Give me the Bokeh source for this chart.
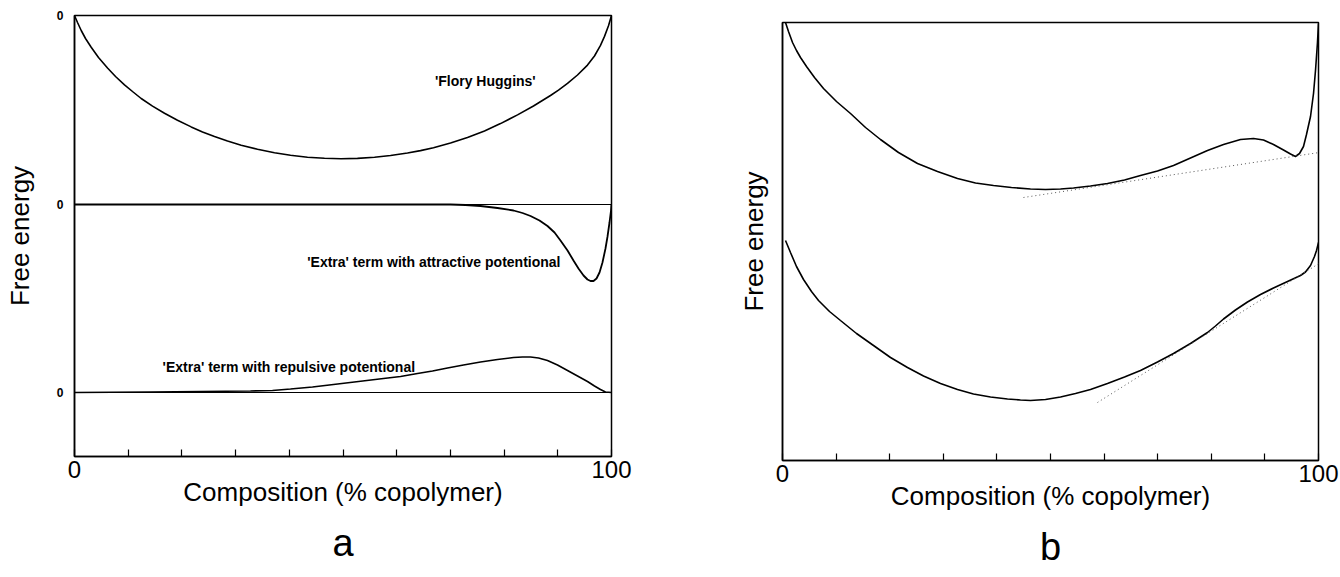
from bokeh.plotting import figure
from bokeh.models import FixedTicker, Span, Title, Spacer, CustomJSTickFormatter
from bokeh.models import Label
from bokeh.layouts import row, column
from bokeh.embed import file_html
from bokeh.resources import INLINE

FONT = "Liberation Sans"

# ---------------- panel a data (arbitrary free-energy units) ----------------
# zero levels of the three stacked curves (repulsive, attractive, Flory-Huggins)
ZERO_LEVELS_A = [0, 188, 377]

fh_x = [0, 0.56, 1.25, 2.05, 3.11, 4.47, 6.15, 7.64, 9.31, 10.80, 12.42, 14.53, 16.76,
        19.18, 21.73, 23.84, 26.07, 28.49, 31.04, 34.08, 37.24, 40.22, 43.39, 46.55,
        49.66, 52.70, 55.87, 58.85, 62.01, 64.43, 66.85, 70.02, 73.18, 76.35, 79.33,
        82.50, 85.47, 88.64, 90.13, 91.81, 93.67, 95.53, 96.83, 97.95, 98.70, 99.44, 100]
fh_y = [0, -7, -15, -23, -31.7, -42, -52.5, -61, -69.3, -76, -83, -90.6, -97.8,
        -104.8, -111.4, -116.4, -121.1, -125.6, -129.7, -133.8, -137.3, -139.8, -141.7,
        -142.8, -143.2, -142.9, -141.8, -140, -137.5, -135.1, -132.2, -127.6, -122.1,
        -115.4, -108.1, -99.4, -90.5, -80, -74.6, -67.9, -59.5, -49.6, -40.5, -29.9,
        -20.9, -10.2, 0]

att_x = [0, 23.46, 51.40, 64.43, 70.02, 72.81, 75.61, 78.77, 81.75, 83.43, 84.92, 86.59,
         88.08, 89.39, 90.50, 91.81, 92.92, 93.85, 94.79, 95.53, 96.09, 96.65, 97.21,
         97.77, 98.32, 98.88, 99.26, 99.63, 99.91, 100]
att_y = [0, 0, 0, 0, 0, -0.5, -1.5, -3.5, -6, -8.5, -11.5, -16, -21.5, -28, -36, -46,
         -56, -64, -71, -75, -76.5, -76.5, -74, -68, -58, -44, -32, -18, -6, 0]

rep_x = [0, 14.15, 23.46, 32.77, 36.87, 40.22, 44.32, 48.23, 52.89, 57.54, 60.71, 63.87,
         66.67, 69.46, 72.44, 75.61, 78.77, 81.75, 83.43, 84.92, 86.41, 88.08, 89.94,
         91.81, 93.67, 95.53, 96.83, 97.95, 98.88, 100]
rep_y = [0, 0.5, 1, 1.5, 2, 3.5, 5.5, 8, 11, 14, 16, 19, 21.5, 24.5, 27.5, 30.5, 33, 35,
         35.5, 35.5, 34.5, 32, 27.5, 22, 16.5, 11, 6.5, 3, 0.5, 0]

# ---------------- panel b data ----------------
up_x = [0.56, 1.12, 1.87, 2.61, 3.36, 4.48, 5.97, 7.65, 10.07, 12.69, 15.49, 18.28, 21.64,
        25.19, 28.92, 32.65, 36.01, 39.37, 42.72, 46.27, 49.07, 51.87, 54.29, 57.46,
        60.63, 63.81, 66.79, 69.96, 72.95, 76.12, 79.29, 82.28, 85.45, 87.87, 89.74,
        91.60, 93.47, 94.78, 95.71, 96.46, 97.20, 97.76, 98.51, 99.07, 99.44, 99.81, 100]
up_y = [438, 429, 418, 410, 403, 394, 383, 372, 359, 347, 333, 321, 308, 297, 289, 282,
        277.5, 275, 273, 271.5, 271, 271.5, 272.5, 274.5, 277, 280.5, 285, 289.5, 295,
        302.5, 310, 316, 321, 322, 320.5, 316, 310.5, 306.5, 304, 307, 314, 326, 344,
        367, 390, 418, 437]
up_tan_x = [44.96, 102.6]
up_tan_y = [263, 310]

lo_x = [0.56, 1.49, 2.61, 3.92, 5.41, 6.72, 8.77, 10.82, 13.81, 16.98, 20.15, 23.32,
        26.31, 29.48, 32.65, 35.63, 38.81, 41.98, 44.40, 46.27, 49.07, 51.87, 54.66,
        57.46, 60.63, 63.81, 66.79, 69.96, 72.95, 76.12, 79.29, 80.78, 82.28, 84.51,
        86.75, 89.18, 91.60, 94.22, 96.64, 97.57, 98.51, 99.25, 99.63, 100]
lo_y = [220, 208, 194, 181, 169, 160, 149, 140, 127, 115, 103, 93, 84.5, 77, 71, 66.5,
        63.5, 61.5, 60.5, 60, 61, 63.5, 67, 71, 77, 83.5, 90, 98.5, 107, 117, 128, 134.5,
        141.5, 150.5, 158.5, 166, 172.5, 179, 185, 188.5, 195, 204, 210, 218]
lo_tan_x = [58.77, 101.87]
lo_tan_y = [58, 203]

X_MAJOR = [0, 100]
X_MINOR = [10, 20, 30, 40, 50, 60, 70, 80, 90]

X_LABEL = "Composition (% copolymer)"
Y_LABEL = "Free energy"
PANEL_LETTERS = ["a", "b"]


def style_common(p):
    p.xgrid.visible = False
    p.ygrid.visible = False
    p.background_fill_color = "white"
    p.border_fill_color = "white"
    p.outline_line_color = "black"
    p.outline_line_width = 1.5
    p.outline_line_alpha = 1.0
    p.axis.axis_line_color = "black"
    p.axis.axis_line_width = 1.5
    xa = p.xaxis[0]
    xa.ticker = FixedTicker(ticks=X_MAJOR, minor_ticks=X_MINOR)
    xa.major_tick_in = 7
    xa.major_tick_out = 0
    xa.minor_tick_in = 7
    xa.minor_tick_out = 0
    xa.major_tick_line_color = "black"
    xa.minor_tick_line_color = "black"
    xa.major_tick_line_width = 1.2
    xa.minor_tick_line_width = 1.2
    xa.major_label_text_font = FONT
    xa.major_label_text_font_size = "24px"
    xa.major_label_text_color = "black"
    xa.major_label_standoff = 4
    xa.axis_label = X_LABEL
    xa.axis_label_text_font = FONT
    xa.axis_label_text_font_size = "26px"
    xa.axis_label_text_font_style = "normal"
    xa.axis_label_text_color = "black"
    xa.axis_label_standoff = -4
    ya = p.yaxis[0]
    ya.axis_label = Y_LABEL
    ya.axis_label_text_font = FONT
    ya.axis_label_text_font_size = "26px"
    ya.axis_label_text_font_style = "normal"
    ya.axis_label_text_color = "black"
    ya.major_tick_in = 0
    ya.major_tick_out = 0
    ya.minor_tick_in = 0
    ya.minor_tick_out = 0


def add_letter(p, letter):
    t = Title(text=letter, align="center", text_font=FONT, text_font_size="38px",
              text_font_style="normal", text_color="black", standoff=20)
    p.add_layout(t, "below")


# ---------------- panel a ----------------
pa = figure(frame_width=537, frame_height=441, x_range=(0, 100), y_range=(-64, 377),
            output_backend="svg", toolbar_location=None,
            min_border_left=74, min_border_right=89, min_border_top=15, min_border_bottom=117)
style_common(pa)
ya = pa.yaxis[0]
ya.ticker = FixedTicker(ticks=ZERO_LEVELS_A, minor_ticks=[])
ya.formatter = CustomJSTickFormatter(code="return '0'")
ya.major_label_text_font = FONT
ya.major_label_text_font_size = "12px"
ya.major_label_text_font_style = "bold"
ya.major_label_text_color = "black"
ya.major_label_standoff = 11
ya.axis_label_standoff = 19

for lvl in ZERO_LEVELS_A[:2]:
    pa.add_layout(Span(location=lvl, dimension="width", line_color="black", line_width=1))

pa.line(fh_x, [ZERO_LEVELS_A[2] + v for v in fh_y], line_color="black", line_width=1.6)
pa.line(att_x, [ZERO_LEVELS_A[1] + v for v in att_y], line_color="black", line_width=1.8)
pa.line(rep_x, [ZERO_LEVELS_A[0] + v for v in rep_y], line_color="black", line_width=1.6)

pa.add_layout(Label(x=76.5, y=312, text="'Flory Huggins'", text_align="center",
                    text_baseline="middle", text_font=FONT, text_font_size="14px",
                    text_font_style="bold", text_color="black"))
pa.add_layout(Label(x=90.5, y=131, text="'Extra' term with attractive potentional",
                    text_align="right", text_baseline="middle", text_font=FONT,
                    text_font_size="14px", text_font_style="bold", text_color="black"))
pa.add_layout(Label(x=16.4, y=26, text="'Extra' term with repulsive potentional",
                    text_align="left", text_baseline="middle", text_font=FONT,
                    text_font_size="14px", text_font_style="bold", text_color="black"))
add_letter(pa, PANEL_LETTERS[0])

# ---------------- panel b ----------------
pb = figure(frame_width=536, frame_height=438, x_range=(0, 100), y_range=(0, 438),
            output_backend="svg", toolbar_location=None,
            min_border_left=82, min_border_right=22, min_border_top=15, min_border_bottom=117)
style_common(pb)
yb = pb.yaxis[0]
yb.ticker = FixedTicker(ticks=[], minor_ticks=[])
yb.major_label_text_font_size = "0px"
yb.axis_label_standoff = 14

pb.line(up_x, up_y, line_color="black", line_width=1.6)
pb.line(lo_x, lo_y, line_color="black", line_width=1.6)
pb.line(up_tan_x, up_tan_y, line_color="#555555", line_width=1, line_dash="1 3")
pb.line(lo_tan_x, lo_tan_y, line_color="#555555", line_width=1, line_dash="1 3")
add_letter(pb, PANEL_LETTERS[1])

layout = row(pa, column(Spacer(height=7, width=640), pb))
open("out.html", "w").write(file_html(layout, INLINE))
